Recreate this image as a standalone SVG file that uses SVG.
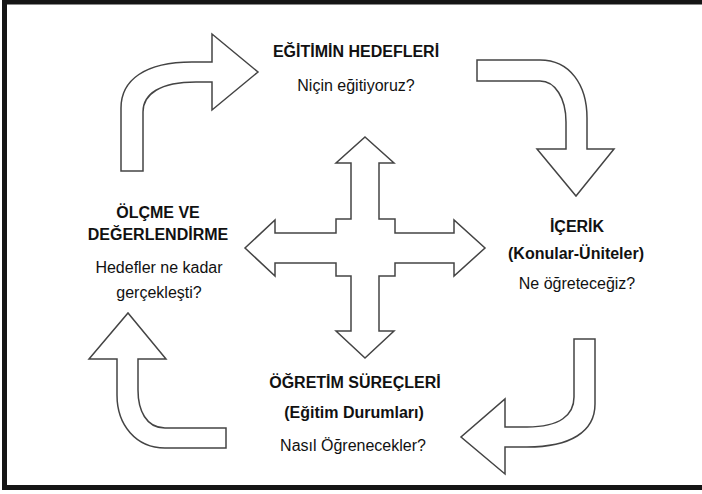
<svg xmlns="http://www.w3.org/2000/svg" width="702" height="494" viewBox="0 0 702 494">
<style>
.bg{fill:#ffffff}
.frame{fill:none;stroke:#151515;stroke-width:5}
.arr{fill:#ffffff;stroke:#444444;stroke-width:1.5;stroke-linejoin:miter}
.h{font-family:"Liberation Sans",Arial,sans-serif;font-weight:bold;font-size:16px;fill:#111111;text-anchor:middle}
.t{font-family:"Liberation Sans",Arial,sans-serif;font-size:16px;fill:#111111;text-anchor:middle}
</style>
<rect class="bg" x="0" y="0" width="702" height="494"/>
<rect class="frame" x="4.5" y="2" width="710" height="485.5"/>
<g id="connectors">
<path id="arrow-top-left" class="arr" d="M121,171 L121,108 C121,80 145,62 192,62 L212,62 L212,34 L258,72 L212,110 L212,82 L196,82 C160,82 143,94 143,112 L143,171 Z"/>
<path id="arrow-top-right" class="arr" d="M477,60 L540,60 C570,60 587,85 587,118 L587,149 L614,149 L576,196 L537,149 L566,149 L566,122 C566,98 555,81 540,81 L477,81 Z"/>
<path id="arrow-bottom-right" class="arr" d="M574,339 L595,339 L595,404 C595,432 570,447 527,447 L505,447 L505,474 L461,437 L505,399 L505,427 L527,427 C560,427 574,415 574,397 Z"/>
<path id="arrow-bottom-left" class="arr" d="M226,448 L226,428 L165,428 C146,428 138,410 138,390 L138,359 L166,359 L128,313 L89,359 L117,359 L117,395 C117,425 136,448 165,448 Z"/>
<path id="cross" class="arr" d="M365,137 L394,163 L379,163 L379,219 L395,219 L395,233 L454,233 L454,220 L485,248 L454,276 L454,263 L395,263 L395,276 L379,276 L379,331 L394,331 L365,358 L336,331 L351,331 L351,276 L336,276 L336,263 L275,263 L275,276 L245,248 L275,220 L275,233 L336,233 L336,219 L351,219 L351,163 L336,163 Z"/>
</g>
<g id="node-hedefler">
<text class="h" x="356" y="57">EĞİTİMİN HEDEFLERİ</text>
<text class="t" x="356" y="91">Niçin eğitiyoruz?</text>
</g>
<g id="node-icerik">
<text class="h" x="577" y="232">İÇERİK</text>
<text class="h" x="576" y="259">(Konular-Üniteler)</text>
<text class="t" x="577" y="289">Ne öğreteceğiz?</text>
</g>
<g id="node-ogretim">
<text class="h" x="355" y="388">ÖĞRETİM SÜREÇLERİ</text>
<text class="h" x="354" y="418">(Eğitim Durumları)</text>
<text class="t" x="353" y="451">Nasıl Öğrenecekler?</text>
</g>
<g id="node-olcme">
<text class="h" x="158" y="218">ÖLÇME VE</text>
<text class="h" x="158" y="240">DEĞERLENDİRME</text>
<text class="t" x="159" y="273">Hedefler ne kadar</text>
<text class="t" x="159" y="298">gerçekleşti?</text>
</g>
</svg>
